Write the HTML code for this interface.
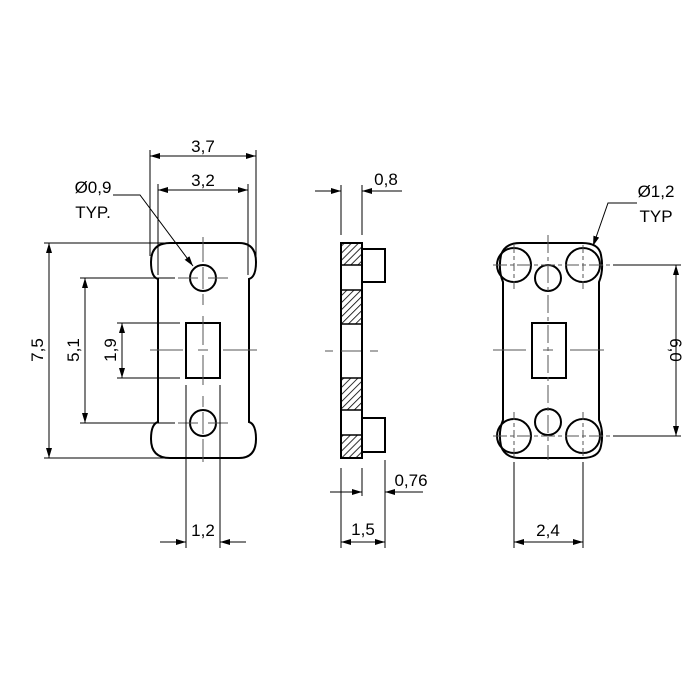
<!DOCTYPE html>
<html><head><meta charset="utf-8"><style>
html,body{margin:0;padding:0;background:#fff;}
svg{display:block;}
text{font-family:"Liberation Sans",sans-serif;font-size:17px;fill:#000;}
</style></head><body>
<svg width="700" height="700" viewBox="0 0 700 700" xmlns="http://www.w3.org/2000/svg">
<defs>
<marker id="a" viewBox="0 0 10 6" refX="10" refY="3" markerWidth="10" markerHeight="6" orient="auto-start-reverse" markerUnits="userSpaceOnUse"><path d="M0,0 L10,3 L0,6 Z" fill="#000"/></marker>
<pattern id="h" width="5" height="5" patternUnits="userSpaceOnUse" patternTransform="rotate(45)"><line x1="0" y1="0" x2="0" y2="5" stroke="#000" stroke-width="1.6"/></pattern>
</defs>
<g fill="none" stroke="#000">
<!-- LEFT VIEW -->
<path d="M170,243 H239 Q256,243 256,262 Q256,277 249,279 V422 Q256,424 256,439 Q256,458 239,458 H170 Q151,458 151,439 Q151,424 158,422 V279 Q151,277 151,262 Q151,243 170,243 Z" stroke-width="2"/>
<circle cx="203" cy="278" r="13" stroke-width="2"/>
<circle cx="203" cy="423" r="13" stroke-width="2"/>
<rect x="186" y="323" width="34" height="55" stroke-width="2"/>
<g stroke="#555" stroke-width="1">
<line x1="203" y1="237" x2="203" y2="262"/><line x1="203" y1="267" x2="203" y2="289"/><line x1="203" y1="294" x2="203" y2="305"/>
<line x1="203" y1="316" x2="203" y2="345"/><line x1="203" y1="355" x2="203" y2="385"/>
<line x1="203" y1="396" x2="203" y2="407"/><line x1="203" y1="412" x2="203" y2="434"/><line x1="203" y1="439" x2="203" y2="462"/>
<line x1="150" y1="350" x2="183" y2="350"/><line x1="198" y1="350" x2="208" y2="350"/><line x1="223" y1="350" x2="257" y2="350"/>
<line x1="178" y1="278" x2="198" y2="278"/><line x1="208" y1="278" x2="228" y2="278"/>
<line x1="178" y1="423" x2="198" y2="423"/><line x1="208" y1="423" x2="228" y2="423"/>
</g>
<g stroke-width="1">
<line x1="150" y1="150" x2="150" y2="256"/><line x1="256" y1="150" x2="256" y2="256"/>
<line x1="150" y1="156" x2="256" y2="156" marker-start="url(#a)" marker-end="url(#a)"/>
<line x1="158" y1="184" x2="158" y2="275"/><line x1="248" y1="184" x2="248" y2="275"/>
<line x1="158" y1="190" x2="248" y2="190" marker-start="url(#a)" marker-end="url(#a)"/>
<polyline points="113,195 140,195 193,266" marker-end="url(#a)"/>
<line x1="44" y1="243" x2="170" y2="243"/><line x1="44" y1="458" x2="170" y2="458"/>
<line x1="49" y1="243" x2="49" y2="458" marker-start="url(#a)" marker-end="url(#a)"/>
<line x1="80" y1="278" x2="175" y2="278"/>
<line x1="80" y1="423" x2="175" y2="423"/>
<line x1="85" y1="278" x2="85" y2="423" marker-start="url(#a)" marker-end="url(#a)"/>
<line x1="117" y1="323" x2="180" y2="323"/><line x1="117" y1="378" x2="180" y2="378"/>
<line x1="122" y1="323" x2="122" y2="378" marker-start="url(#a)" marker-end="url(#a)"/>
<line x1="186" y1="385" x2="186" y2="548"/><line x1="220" y1="385" x2="220" y2="548"/>
<line x1="160" y1="542" x2="186" y2="542" marker-end="url(#a)"/><line x1="246" y1="542" x2="220" y2="542" marker-end="url(#a)"/>
</g>
<!-- MIDDLE VIEW -->
<rect x="341" y="243" width="21" height="22" fill="url(#h)" stroke="none"/>
<rect x="341" y="290" width="21" height="34" fill="url(#h)" stroke="none"/>
<rect x="341" y="378" width="21" height="32" fill="url(#h)" stroke="none"/>
<rect x="341" y="435" width="21" height="23" fill="url(#h)" stroke="none"/>
<rect x="341" y="243" width="21" height="215" stroke-width="2"/>
<g stroke-width="1.6">
<line x1="341" y1="265" x2="362" y2="265"/><line x1="341" y1="290" x2="362" y2="290"/>
<line x1="341" y1="324" x2="362" y2="324"/><line x1="341" y1="378" x2="362" y2="378"/>
<line x1="341" y1="410" x2="362" y2="410"/><line x1="341" y1="435" x2="362" y2="435"/>
</g>
<path d="M362,249 H385 V282 H362 M362,418 H385 V452 H362" stroke-width="2"/>
<g stroke="#555" stroke-width="1"><line x1="325" y1="351" x2="333" y2="351"/><line x1="341" y1="351" x2="361" y2="351"/><line x1="370" y1="351" x2="378" y2="351"/></g>
<g stroke-width="1">
<line x1="341" y1="185" x2="341" y2="235"/><line x1="362" y1="185" x2="362" y2="235"/>
<line x1="315" y1="191" x2="341" y2="191" marker-end="url(#a)"/><line x1="402" y1="191" x2="362" y2="191" marker-end="url(#a)"/>
<line x1="341" y1="468" x2="341" y2="548"/><line x1="362" y1="468" x2="362" y2="496"/><line x1="385" y1="460" x2="385" y2="548"/>
<line x1="330" y1="492" x2="362" y2="492" marker-end="url(#a)"/><line x1="423" y1="492" x2="385" y2="492" marker-end="url(#a)"/>
<line x1="341" y1="542" x2="385" y2="542" marker-start="url(#a)" marker-end="url(#a)"/>
</g>
<!-- RIGHT VIEW -->
<path d="M520,243 H582 Q599,243 601,255 Q604,270 599,282 V420 Q604,432 601,446 Q599,458 582,458 H520 Q505,458 501,446 Q498,432 503,420 V282 Q498,270 501,255 Q505,243 520,243 Z" stroke-width="2"/>
<circle cx="514" cy="265" r="17" stroke-width="2"/><circle cx="583" cy="265" r="17" stroke-width="2"/>
<circle cx="514" cy="436" r="17" stroke-width="2"/><circle cx="583" cy="436" r="17" stroke-width="2"/>
<circle cx="548" cy="278" r="13" stroke-width="2"/><circle cx="548" cy="422" r="13" stroke-width="2"/>
<rect x="532" y="323" width="34" height="55" stroke-width="2"/>
<g stroke="#555" stroke-width="1">
<line x1="493" y1="265" x2="625" y2="265" stroke-dasharray="14,3,4,3"/>
<line x1="493" y1="436" x2="625" y2="436" stroke-dasharray="14,3,4,3"/>
<line x1="493" y1="350" x2="526" y2="350"/><line x1="543" y1="350" x2="553" y2="350"/><line x1="570" y1="350" x2="604" y2="350"/>
<line x1="548" y1="235" x2="548" y2="460" stroke-dasharray="18,4,4,4"/>
<line x1="514" y1="245" x2="514" y2="290" stroke-dasharray="8,3,4,3"/><line x1="583" y1="245" x2="583" y2="290" stroke-dasharray="8,3,4,3"/>
<line x1="514" y1="412" x2="514" y2="458" stroke-dasharray="8,3,4,3"/><line x1="583" y1="412" x2="583" y2="458" stroke-dasharray="8,3,4,3"/>
</g>
<g stroke-width="1">
<line x1="613" y1="265" x2="681" y2="265"/><line x1="613" y1="436" x2="681" y2="436"/>
<line x1="676" y1="265" x2="676" y2="436" marker-start="url(#a)" marker-end="url(#a)"/>
<line x1="514" y1="462" x2="514" y2="548"/><line x1="583" y1="462" x2="583" y2="548"/>
<line x1="514" y1="542" x2="583" y2="542" marker-start="url(#a)" marker-end="url(#a)"/>
<polyline points="637,203 608,203 593,246" marker-end="url(#a)"/>
</g>
</g>
<text x="203" y="152" text-anchor="middle">3,7</text>
<text x="203" y="186" text-anchor="middle">3,2</text>
<text x="93" y="193" text-anchor="middle">Ø0,9</text>
<text x="93" y="218" text-anchor="middle">TYP.</text>
<text transform="translate(43,350) rotate(-90)" text-anchor="middle">7,5</text>
<text transform="translate(79,350) rotate(-90)" text-anchor="middle">5,1</text>
<text transform="translate(116,350) rotate(-90)" text-anchor="middle">1,9</text>
<text x="203" y="536" text-anchor="middle">1,2</text>
<text x="386" y="185" text-anchor="middle">0,8</text>
<text x="411" y="486" text-anchor="middle">0,76</text>
<text x="363" y="535" text-anchor="middle">1,5</text>
<text x="656" y="197" text-anchor="middle">Ø1,2</text>
<text x="656" y="222" text-anchor="middle">TYP</text>
<text transform="translate(670,350) rotate(90)" text-anchor="middle">6,0</text>
<text x="548" y="536" text-anchor="middle">2,4</text>
</svg>
</body></html>
